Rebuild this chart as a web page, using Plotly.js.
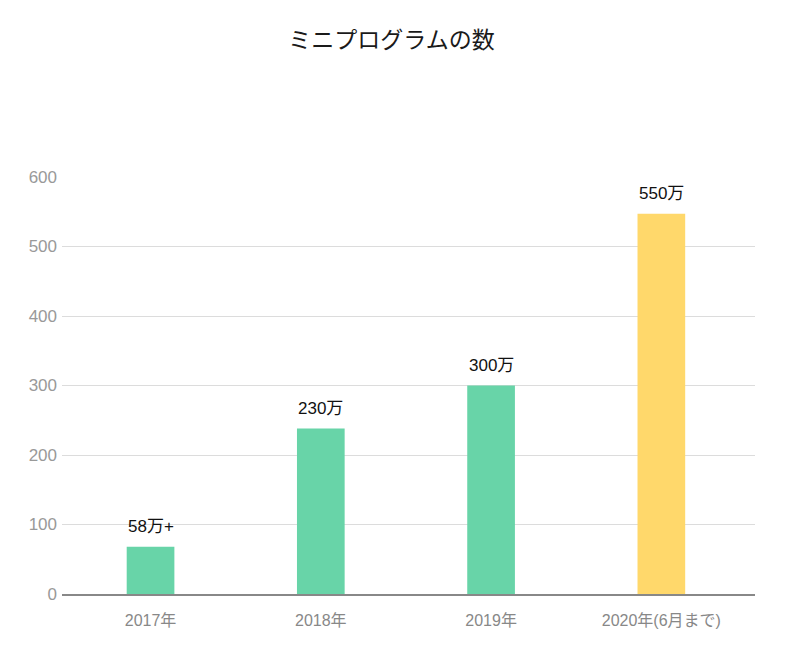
<!DOCTYPE html>
<html>
<head>
<meta charset="utf-8">
<script src="https://cdn.plot.ly/plotly-3.0.1.min.js"></script>
<style>html,body{margin:0;padding:0;background:#fff;}#chart{width:799px;height:652px;}</style>
</head>
<body>
<div id="chart"></div>
<script>
const categories = ["2017年", "2018年", "2019年", "2020年(6月まで)"];
const values = [68, 238, 300, 547];
const labels = ["58万+", "230万", "300万", "550万"];
const colors = ["#68d4a8", "#68d4a8", "#68d4a8", "#ffd86b"];
const yTicks = [0, 100, 200, 300, 400, 500, 600];

const font = '"Liberation Sans", "Noto Sans CJK JP", sans-serif';
const titleFont = '"Noto Sans CJK JP", sans-serif';

const trace = {
  type: "bar",
  x: categories,
  y: values,
  marker: { color: colors, line: { width: 0 } },
  width: 0.28,
  hoverinfo: "none"
};

const annotations = categories.map((c, i) => ({
  x: c, y: values[i], xref: "x", yref: "y",
  text: labels[i], showarrow: false,
  yanchor: "bottom", yshift: 9,
  font: { family: font, size: 17, color: "#111" }
}));

const layout = {
  width: 799, height: 652,
  margin: { l: 62, r: 44, t: 177, b: 58 },
  paper_bgcolor: "#fff", plot_bgcolor: "#fff",
  title: {
    text: "ミニプログラムの数",
    font: { family: titleFont, size: 23, color: "#1a1a1a", weight: 400 },
    x: 0.49, xanchor: "center", y: 1 - 40 / 652, yanchor: "middle", yref: "container"
  },
  xaxis: {
    type: "category",
    range: [-0.52, 3.55],
    showgrid: false,
    showline: true, linecolor: "#888", linewidth: 2,
    ticks: "",
    ticklabelstandoff: 11,
    tickfont: { family: font, size: 16, color: "#888" },
    fixedrange: true
  },
  yaxis: {
    range: [0, 600],
    tickvals: yTicks,
    showgrid: true, gridcolor: "#dcdcdc", gridwidth: 1,
    zeroline: false,
    showline: false,
    ticks: "",
    ticklabelstandoff: 4,
    tickfont: { family: font, size: 17, color: "#999" },
    fixedrange: true
  },
  annotations: annotations,
  showlegend: false,
  bargap: 0.7
};

Plotly.newPlot("chart", [trace], layout, { displayModeBar: false, staticPlot: true });
</script>
</body>
</html>
